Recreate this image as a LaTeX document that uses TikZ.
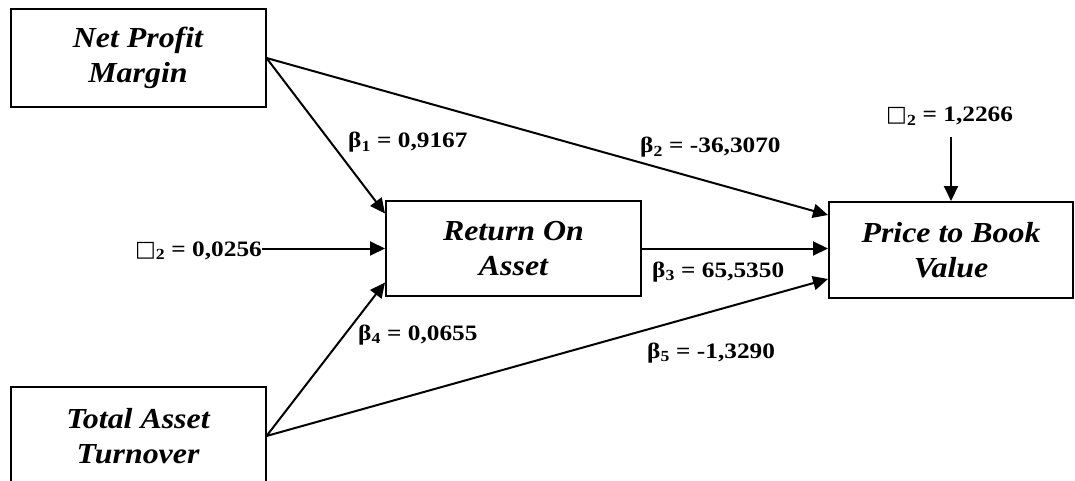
\documentclass[tikz,border=0pt]{standalone}
\usepackage{fontspec}
\setmainfont{Liberation Serif}
\newfontfamily\boxfont[FakeStretch=1.1]{Liberation Serif}
\newfontfamily\labelfont[FakeStretch=1.15]{Liberation Serif}
\newfontfamily\symfont{DejaVu Sans}
\usetikzlibrary{arrows.meta,calc}

% unknown-glyph box followed by a subscript, as printed
\newcommand{\errsym}[1]{{\symfont\fontsize{22}{22}\selectfont\char"25A1}\textsubscript{#1}}
\newcommand{\coef}[2]{β\textsubscript{#1} = #2}

\tikzset{
  varbox/.style={draw, line width=2pt, minimum width=255pt, minimum height=98pt,
    align=center, inner sep=0pt,
    font=\boxfont\fontsize{29}{35}\selectfont\bfseries\itshape},
  labeltext/.style={inner sep=0pt, font=\labelfont\fontsize{22}{24}\selectfont\bfseries},
  coeflabel/.style={labeltext, anchor=base west},
  path/.style={line width=2pt, -{Triangle[length=15pt,width=14pt]}},
}

\begin{document}
\begin{tikzpicture}[x=1pt,y=-1pt]
\useasboundingbox[fill=white] (0,0) rectangle (1075,481);

% variables
\node[varbox] (npm) at (138,58) {Net Profit\\Margin};
\node[varbox] (tat) at (138,436) {Total Asset\\Turnover};
\node[varbox, minimum width=255pt, minimum height=95pt] (roa) at (513.5,248.5) {Return On\\Asset};
\node[varbox, minimum width=244pt, minimum height=96pt] (pbv) at (951,250) {Price to Book\\Value};

% error terms
\node[labeltext, anchor=base east] (e1) at (262,256) {\errsym{2} = 0,0256};
\node[labeltext, anchor=base west] (e2) at (886,122) {\errsym{2} = 1,2266};
\coordinate (e2tail) at (951,137);

% paths
\draw[path] (npm.east) -- ([yshift=35pt]roa.west);
\draw[path] (npm.east) -- ([yshift=35pt]pbv.west);
\draw[path] (e1.east |- roa.west) -- (roa.west);
\draw[path] (roa.east) -- ([yshift=1.5pt]pbv.west);
\draw[path] (tat.east) -- ([yshift=-34pt]roa.west);
\draw[path] (tat.east) -- ([yshift=-29pt]pbv.west);
\draw[path] (e2tail) -- (pbv.north -| e2tail);

% coefficients
\node[coeflabel] (b1) at (348,148) {\coef{1}{0,9167}};
\node[coeflabel] (b2) at (640,153) {\coef{2}{-36,3070}};
\node[coeflabel] (b3) at (652,277) {\coef{3}{65,5350}};
\node[coeflabel] (b4) at (358,340) {\coef{4}{0,0655}};
\node[coeflabel] (b5) at (647,358) {\coef{5}{-1,3290}};
\end{tikzpicture}
\end{document}
